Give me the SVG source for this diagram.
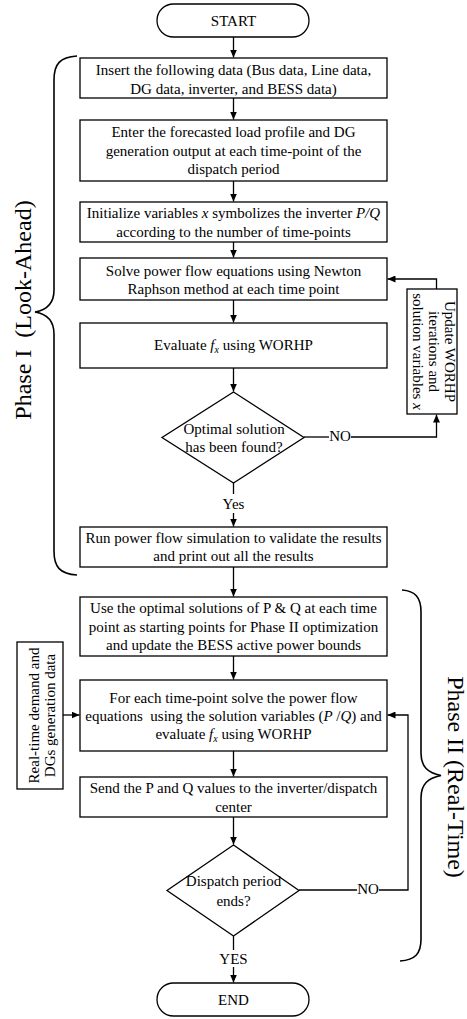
<svg xmlns="http://www.w3.org/2000/svg" width="467" height="1019" viewBox="0 0 467 1019">
<style>
text{font-family:"Liberation Serif","Times New Roman",serif;font-size:15px;fill:#000}
.c{text-anchor:middle}
.big{font-size:24px}
.i{font-style:italic}
.box{fill:#fff;stroke:#000;stroke-width:1.3}
.ln{fill:none;stroke:#000;stroke-width:1.3}
.br{fill:none;stroke:#000;stroke-width:1.6}
</style>
<defs>
<marker id="ah" markerUnits="userSpaceOnUse" markerWidth="8" markerHeight="7" refX="8" refY="3.5" orient="auto">
<path d="M0,0 L8,3.5 L0,7 z" fill="#000"/>
</marker>
</defs>
<rect width="467" height="1019" fill="#fff"/>

<g id="connectors">
<path class="ln" d="M233.5,37 V57.5" marker-end="url(#ah)"/>
<path class="ln" d="M233.5,98 V119.5" marker-end="url(#ah)"/>
<path class="ln" d="M233.5,181 V201.5" marker-end="url(#ah)"/>
<path class="ln" d="M233.5,242 V257.5" marker-end="url(#ah)"/>
<path class="ln" d="M233.5,300 V322.5" marker-end="url(#ah)"/>
<path class="ln" d="M233.5,368 V391.5" marker-end="url(#ah)"/>
<path class="ln" d="M233.5,483 V494"/>
<path class="ln" d="M233.5,513 V526.5" marker-end="url(#ah)"/>
<path class="ln" d="M304,437 H329"/>
<path class="ln" d="M351,437 H436.5 V414.5" marker-end="url(#ah)"/>
<path class="ln" d="M436.5,289 V279 H387.5" marker-end="url(#ah)"/>
<path class="ln" d="M233.5,567 V596.5" marker-end="url(#ah)"/>
<path class="ln" d="M233.5,656 V679.5" marker-end="url(#ah)"/>
<path class="ln" d="M63,715 H79.5" marker-end="url(#ah)"/>
<path class="ln" d="M233.5,751 V776.5" marker-end="url(#ah)"/>
<path class="ln" d="M233.5,817 V844.5" marker-end="url(#ah)"/>
<path class="ln" d="M299,890 H357"/>
<path class="ln" d="M379,890 H408 V715 H387.5" marker-end="url(#ah)"/>
<path class="ln" d="M233.5,936 V950"/>
<path class="ln" d="M233.5,967 V982.5" marker-end="url(#ah)"/>
<text class="c" x="340" y="441">NO</text>
<text class="c" x="233.5" y="509">Yes</text>
<text class="c" x="368" y="894">NO</text>
<text class="c" x="233.5" y="964">YES</text>
</g>

<g id="start">
<rect class="box" x="157" y="4" width="152" height="33" rx="16.5"/>
<text class="c" x="233.5" y="26">START</text>
</g>

<g id="box1">
<rect class="box" x="80" y="58" width="307" height="40"/>
<text class="c" x="233.5" y="75">Insert the following data (Bus data, Line data,</text>
<text class="c" x="233.5" y="94">DG data, inverter, and BESS data)</text>
</g>

<g id="box2">
<rect class="box" x="80" y="120" width="307" height="61"/>
<text class="c" x="233.5" y="137">Enter the forecasted load profile and DG</text>
<text class="c" x="233.5" y="156">generation output at each time-point of the</text>
<text class="c" x="233.5" y="174">dispatch period</text>
</g>

<g id="box3">
<rect class="box" x="80" y="202" width="307" height="40"/>
<text class="c" x="233.5" y="218">Initialize variables <tspan class="i">x</tspan> symbolizes the inverter <tspan class="i">P/Q</tspan></text>
<text class="c" x="233.5" y="237">according to the number of time-points</text>
</g>

<g id="box4">
<rect class="box" x="80" y="258" width="307" height="42"/>
<text class="c" x="233.5" y="276">Solve power flow equations using Newton</text>
<text class="c" x="233.5" y="294">Raphson method at each time point</text>
</g>

<g id="box5">
<rect class="box" x="80" y="323" width="307" height="45"/>
<text class="c" x="233.5" y="350">Evaluate <tspan class="i">f</tspan><tspan class="i" font-size="10" dy="3">x</tspan><tspan dy="-3"> using WORHP</tspan></text>
</g>

<g id="decision1">
<polygon class="box" points="233.5,392 304,437.5 233.5,483 162,437.5"/>
<text class="c" x="234" y="434">Optimal solution</text>
<text class="c" x="234" y="452">has been found?</text>
</g>

<g id="update">
<rect class="box" x="407" y="289" width="50" height="125"/>
<g transform="translate(0,351.5)">
<text class="c" transform="translate(445,0) rotate(90)">Update WORHP</text>
<text class="c" transform="translate(429,0) rotate(90)">iterations and</text>
<text class="c" transform="translate(413,0) rotate(90)">solution variables <tspan class="i">x</tspan></text>
</g>
</g>

<g id="box6">
<rect class="box" x="80" y="527" width="307" height="40"/>
<text class="c" x="233.5" y="543">Run power flow simulation to validate the results</text>
<text class="c" x="233.5" y="561">and print out all the results</text>
</g>

<g id="box7">
<rect class="box" x="80" y="597" width="307" height="59"/>
<text class="c" x="233.5" y="613">Use the optimal solutions of P &amp; Q at each time</text>
<text class="c" x="233.5" y="632">point as starting points for Phase II optimization</text>
<text class="c" x="233.5" y="650">and update the BESS active power bounds</text>
</g>

<g id="box8">
<rect class="box" x="80" y="680" width="307" height="71"/>
<text class="c" x="233.5" y="703">For each time-point solve the power flow</text>
<text class="c" x="233.5" y="721" xml:space="preserve">equations  using the solution variables (<tspan class="i">P </tspan>/<tspan class="i">Q</tspan>) and</text>
<text class="c" x="233.5" y="739">evaluate <tspan class="i">f</tspan><tspan class="i" font-size="10" dy="3">x</tspan><tspan dy="-3"> using WORHP</tspan></text>
</g>

<g id="realtime">
<rect class="box" x="17" y="642" width="46" height="147"/>
<text class="c" transform="translate(39,715.5) rotate(-90)">Real-time demand and</text>
<text class="c" transform="translate(55,715.5) rotate(-90)">DGs generation data</text>
</g>

<g id="box9">
<rect class="box" x="80" y="777" width="307" height="40"/>
<text class="c" x="233.5" y="793">Send the P and Q values to the inverter/dispatch</text>
<text class="c" x="233.5" y="812">center</text>
</g>

<g id="decision2">
<polygon class="box" points="233.5,845 299,890.5 233.5,936 167,890.5"/>
<text class="c" x="233.5" y="886">Dispatch period</text>
<text class="c" x="233.5" y="906">ends?</text>
</g>

<g id="end">
<rect class="box" x="157" y="983" width="152" height="33" rx="16.5"/>
<text class="c" x="233.5" y="1005">END</text>
</g>

<g id="phase1">
<path class="br" d="M77,56 C60,57 54,64 54,80 L54,290 C54,304 47,310 35,312 C47,314 54,320 54,334 L54,551 C54,567 60,574 77,575"/>
<text class="c big" transform="translate(31,310) rotate(-90)">Phase I&#160; (Look-Ahead)</text>
</g>

<g id="phase2">
<path class="br" d="M402,590 C415,591 421,597 421,612 L421,753 C421,767 428,773 441,775.5 C428,778 421,784 421,798 L421,939 C421,954 415,960 400,961"/>
<text class="c big" transform="translate(448,777) rotate(90)">Phase II (Real-Time)</text>
</g>
</svg>
